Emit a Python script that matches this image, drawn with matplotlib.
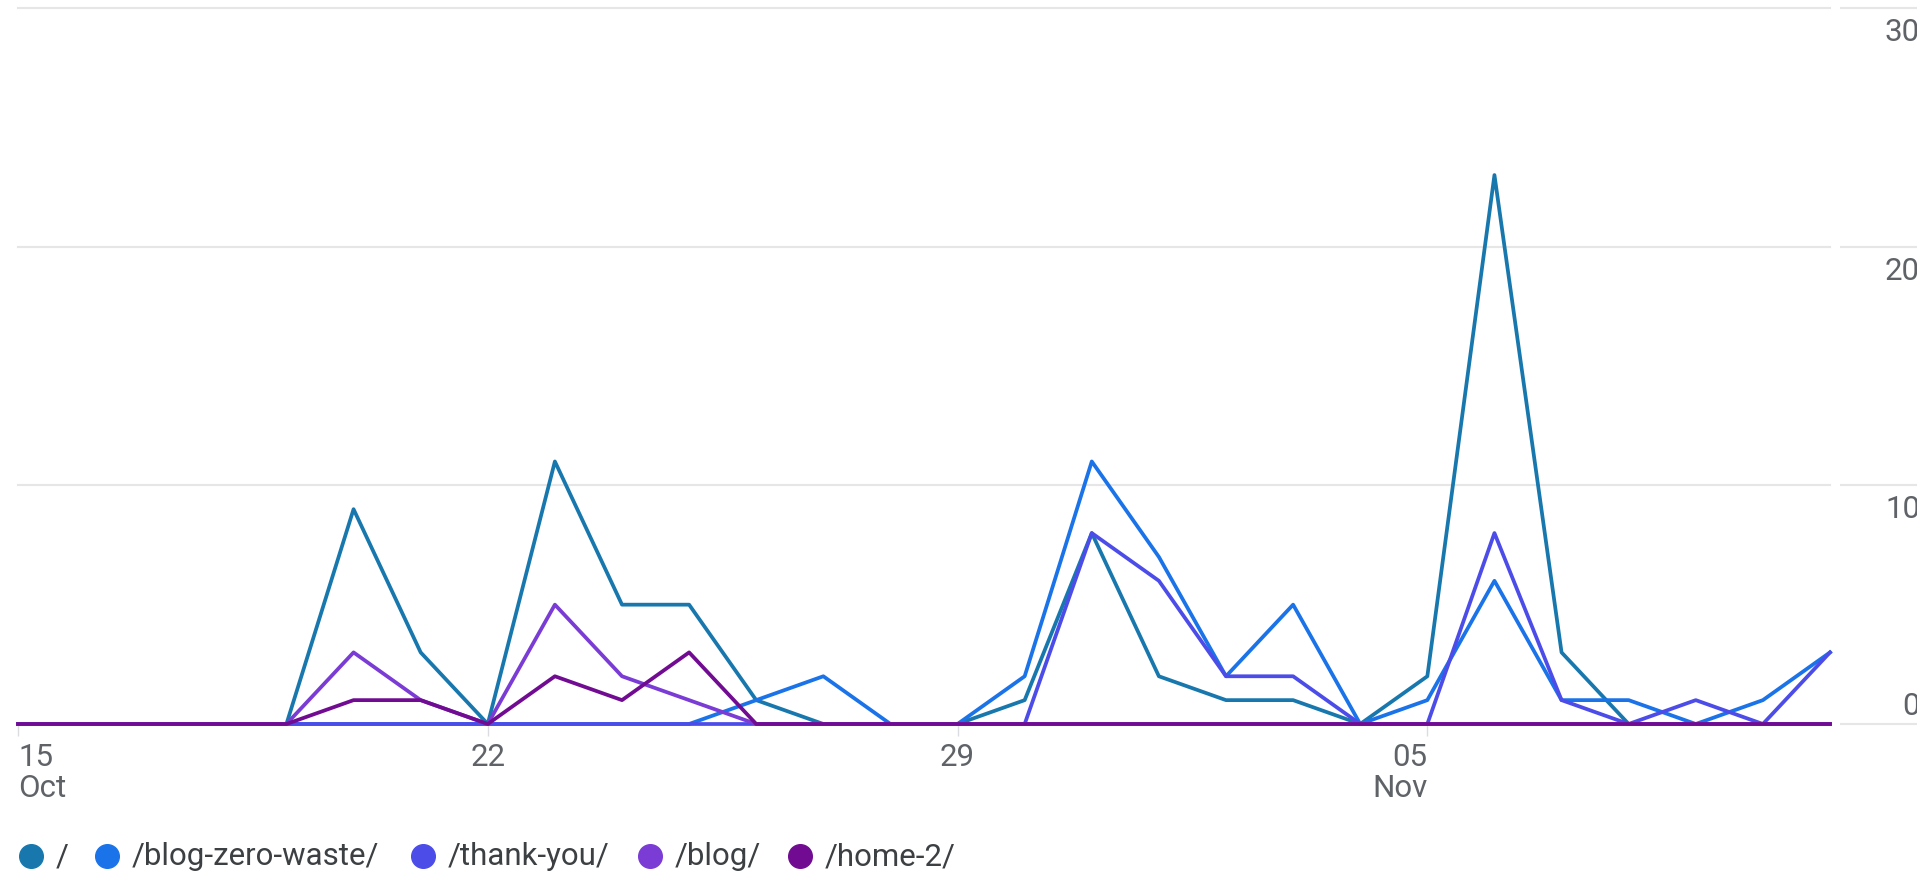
import pandas as pd
import matplotlib
matplotlib.use("Agg")
import matplotlib.pyplot as plt
from matplotlib.lines import Line2D
from matplotlib.transforms import offset_copy

plt.rcParams["font.family"] = ["Roboto", "DejaVu Sans"]

# Daily views per page, 15 Oct - 11 Nov
dates = pd.date_range("2023-10-15", "2023-11-11", freq="D")
pages = ["/", "/blog-zero-waste/", "/thank-you/", "/blog/", "/home-2/"]
colors = ["#1878ae", "#1a73e8", "#4c4ce9", "#7a3cd5", "#710c92"]

views_home = [0, 0, 0, 0, 0, 9, 3, 0, 11, 5, 5, 1, 0, 0,
              0, 1, 8, 2, 1, 1, 0, 2, 23, 3, 0, 0, 0, 0]
views_blog_zero_waste = [0, 0, 0, 0, 0, 0, 0, 0, 0, 0, 0, 1, 2, 0,
                         0, 2, 11, 7, 2, 5, 0, 1, 6, 1, 1, 0, 1, 3]
views_thank_you = [0, 0, 0, 0, 0, 0, 0, 0, 0, 0, 0, 0, 0, 0,
                   0, 0, 8, 6, 2, 2, 0, 0, 8, 1, 0, 1, 0, 3]
views_blog = [0, 0, 0, 0, 0, 3, 1, 0, 5, 2, 1, 0, 0, 0,
              0, 0, 0, 0, 0, 0, 0, 0, 0, 0, 0, 0, 0, 0]
views_home_2 = [0, 0, 0, 0, 0, 1, 1, 0, 2, 1, 3, 0, 0, 0,
                0, 0, 0, 0, 0, 0, 0, 0, 0, 0, 0, 0, 0, 0]
series = [views_home, views_blog_zero_waste, views_thank_you, views_blog, views_home_2]

tick_dates = pd.to_datetime(["2023-10-15", "2023-10-22", "2023-10-29", "2023-11-05"])
tick_labels = ["15\nOct", "22", "29", "05\nNov"]
y_ticks = [0, 10, 20, 30]

W, H = 1917, 876
FS = 22.5
fig = plt.figure(figsize=(W / 100, H / 100), dpi=100)
ax = fig.add_axes([18 / W, 1 - 724 / H, 1812 / W, 716 / H])

for vals, col in zip(series, colors):
    ax.plot(dates, vals, color=col, lw=2.7, clip_on=False, zorder=3)

ax.set_xlim(dates[0], dates[-1])
ax.set_ylim(0, 30)
for s in ax.spines.values():
    s.set_visible(False)

# x axis
ax.set_xticks(tick_dates, tick_labels)
ax.tick_params(axis="x", length=8.6, width=1, color="#dadce0", pad=5,
               labelsize=FS, labelcolor="#5f6368")
xl = ax.get_xticklabels()
for t in xl:
    t.set_linespacing(1.1)
xl[0].set_ha("left")
xl[-1].set_ha("right")

# y grid + labels on the right
ax.set_yticks(y_ticks)
ax.tick_params(axis="y", length=0, labelleft=False)
ax.grid(axis="y", color="#e6e6e6", lw=1.5, zorder=0)
for g in ax.get_ygridlines():
    g.set_clip_on(False)
ax.hlines(y_ticks, 1.0055, 1.06, transform=ax.get_yaxis_transform(),
          color="#e6e6e6", lw=1.5, clip_on=False)
for v in y_ticks:
    dy = 9 if v == 0 else -33
    tr = offset_copy(ax.get_yaxis_transform(), fig=fig, x=0, y=dy, units="dots")
    ax.text(1.0497, v, str(v), transform=tr, ha="right", va="baseline",
            fontsize=FS, color="#5f6368", clip_on=False)

# legend row (dot centres in pixels)
dot_x = [31, 107, 423, 650, 800]
y_dot = 1 - 856 / H
y_txt = 1 - 865 / H
for name, col, x in zip(pages, colors, dot_x):
    fig.add_artist(Line2D([x / W], [y_dot], marker="o", markersize=17,
                          color=col, lw=0, transform=fig.transFigure))
    fig.text((x + 25) / W, y_txt, name, fontsize=FS, color="#3c4043",
             ha="left", va="baseline")

fig.savefig("out.png", dpi=100)
print("Saved plot to out.png")
